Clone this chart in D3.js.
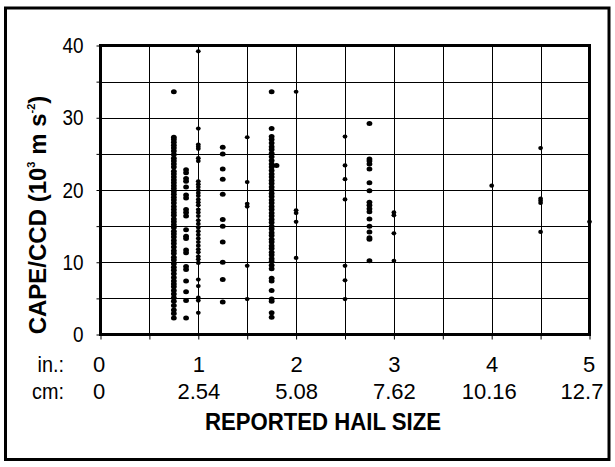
<!DOCTYPE html>
<html><head><meta charset="utf-8">
<script src="https://cdn.jsdelivr.net/npm/d3@7"></script>
<style>html,body{margin:0;padding:0;background:#fff;}svg{display:block;}</style>
</head><body>
<script>
// Hail size columns (inches) and CAPE/CCD values (10^3 m s^-2)
const hailSizesIn = [0.75, 0.875, 1, 1.25, 1.5, 1.75, 1.8, 2, 2.5, 2.75, 3, 4, 4.5, 5];
const cape075 = [33.6, 27.3, 27.0, 26.6, 26.2, 25.8, 25.4, 24.9, 24.4, 24.0, 23.6, 23.2, 22.6, 22.2, 21.8, 21.4, 21.0, 20.6, 20.2, 19.8, 19.4, 19.0, 18.6, 18.2, 17.7, 17.3, 16.9, 16.5, 16.0, 15.6, 15.2, 14.8, 14.3, 13.9, 13.5, 13.0, 12.6, 12.1, 11.6, 11.2, 10.7, 10.3, 9.8, 9.3, 8.9, 8.4, 7.9, 7.4, 7.0, 6.6, 6.1, 5.6, 5.1, 4.6, 4.0, 3.4, 2.9, 2.3];
const cape0875 = [22.8, 22.4, 21.6, 21.2, 20.4, 19.3, 18.9, 17.3, 16.9, 16.4, 14.5, 13.6, 13.3, 11.7, 11.3, 9.4, 9.0, 7.4, 5.9, 4.7, 2.3];
const cape100 = [39.2, 28.5, 26.3, 26.0, 25.7, 24.4, 24.0, 21.2, 20.8, 20.4, 20.0, 19.6, 19.2, 18.7, 18.3, 17.9, 17.3, 16.9, 16.4, 15.8, 15.3, 14.8, 14.3, 13.8, 13.3, 12.8, 12.3, 11.8, 11.4, 10.8, 10.4, 9.9, 7.6, 6.7, 5.1, 4.7, 3.0];
const cape125 = [25.9, 25.0, 22.9, 21.5, 19.4, 15.9, 15.0, 12.8, 10.0, 7.6, 4.5];
const cape150 = [27.3, 21.1, 18.1, 17.7, 9.5, 4.9];
const cape175 = [33.6, 28.5, 27.4, 27.0, 26.5, 26.0, 25.6, 25.1, 24.6, 24.1, 23.6, 23.2, 22.7, 22.2, 21.8, 21.3, 20.9, 20.4, 20.0, 19.5, 19.1, 18.6, 18.2, 17.7, 17.3, 16.8, 16.4, 15.9, 15.5, 15.0, 14.6, 14.1, 13.7, 13.2, 12.8, 12.3, 11.9, 11.4, 11.0, 10.5, 10.1, 9.6, 9.1, 7.8, 7.4, 6.1, 4.9, 4.6, 3.0, 2.4];
const cape180 = [23.4];
const cape200 = [33.6, 17.2, 16.8, 15.6, 10.6];
const cape250 = [27.4, 23.4, 21.5, 18.7, 9.5, 7.5, 4.9];
const cape275 = [29.2, 24.3, 24.0, 23.6, 22.9, 21.0, 19.9, 18.3, 17.9, 17.4, 17.0, 16.0, 15.0, 14.2, 13.4, 13.2, 10.2];
const cape300 = [16.9, 16.5, 14.0, 10.2];
const cape400 = [20.6];
const cape450 = [25.8, 18.8, 18.5, 18.2, 14.2];
const cape500 = [15.6];
const capeColumns = [cape075, cape0875, cape100, cape125, cape150, cape175, cape180, cape200, cape250, cape275, cape300, cape400, cape450, cape500];

const inchTicks = [0, 1, 2, 3, 4, 5];
const inchLabels = ["0", "1", "2", "3", "4", "5"];
const cmLabels = ["0", "2.54", "5.08", "7.62", "10.16", "12.7"];
const yTickValues = [0, 5, 10, 15, 20, 25, 30, 35, 40];
const yLabelValues = [0, 10, 20, 30, 40];

const points = [];
hailSizesIn.forEach((h, i) => capeColumns[i].forEach(v => points.push({x: h, y: v})));

const W = 615, H = 467;
const svg = d3.select("body").append("svg").attr("width", W).attr("height", H);
const font = "'Liberation Sans', Arial, sans-serif";

function condense(sel, factor) {
  sel.each(function () {
    const l = this.getComputedTextLength();
    d3.select(this).attr("textLength", l * factor).attr("lengthAdjust", "spacingAndGlyphs");
  });
}

// outer frame
svg.append("rect").attr("x", 5.5).attr("y", 8).attr("width", 603.5).attr("height", 451.5)
  .attr("fill", "none").attr("stroke", "#000").attr("stroke-width", 3);

const x = d3.scaleLinear().domain([0, 5]).range([100.5, 589.5]);
const y = d3.scaleLinear().domain([0, 40]).range([334.5, 45.5]);

// gridlines
const g = svg.append("g");
g.selectAll(".vg").data(d3.range(0.5, 5, 0.5)).enter().append("line")
  .attr("x1", d => Math.round(x(d)) + 0.5).attr("x2", d => Math.round(x(d)) + 0.5)
  .attr("y1", y(40)).attr("y2", y(0)).attr("stroke", "#000").attr("stroke-width", 1);
g.selectAll(".hg").data([5, 10, 15, 20, 25, 30, 35]).enter().append("line")
  .attr("y1", d => Math.round(y(d)) + 0.5).attr("y2", d => Math.round(y(d)) + 0.5)
  .attr("x1", x(0)).attr("x2", x(5)).attr("stroke", "#000").attr("stroke-width", 1);

// tick marks via axes
const xTickAxis = d3.axisBottom(x).tickValues(d3.range(0, 5.01, 0.5)).tickSize(5).tickFormat("");
svg.append("g").attr("transform", `translate(0,${y(0)})`).call(xTickAxis)
  .call(s => s.select(".domain").remove())
  .selectAll("line").attr("stroke", "#000").attr("stroke-width", 1);
const yTickAxis = d3.axisLeft(y).tickValues(yTickValues).tickSize(4).tickFormat("");
svg.append("g").attr("transform", `translate(${x(0)},0)`).call(yTickAxis)
  .call(s => s.select(".domain").remove())
  .selectAll("line").attr("stroke", "#000").attr("stroke-width", 1);

// y labels
const yLab = d3.axisLeft(y).tickValues(yLabelValues).tickSize(0).tickPadding(17).tickFormat(d3.format("d"));
svg.append("g").attr("transform", `translate(${x(0)},0)`).call(yLab)
  .call(s => s.select(".domain").remove())
  .selectAll("text").attr("font-family", font).attr("font-size", 22).attr("fill", "#000")
  .call(condense, 0.86);

// x labels: inches and cm rows
const inAxis = d3.axisBottom(x).tickValues(inchTicks).tickSize(0).tickFormat((d, i) => inchLabels[i]);
const inG = svg.append("g").attr("transform", `translate(0,${y(0)})`).call(inAxis);
inG.select(".domain").remove();
inG.selectAll("text").attr("font-family", font).attr("font-size", 22).attr("fill", "#000")
  .attr("dy", null).attr("y", 37);
const cmAxis = d3.axisBottom(x).tickValues(inchTicks).tickSize(0).tickFormat((d, i) => cmLabels[i]);
const cmG = svg.append("g").attr("transform", `translate(0,${y(0)})`).call(cmAxis);
cmG.select(".domain").remove();
cmG.selectAll("text").attr("font-family", font).attr("font-size", 22).attr("fill", "#000")
  .attr("dy", null).attr("y", 64);
// first/last labels placed like the original
inG.selectAll(".tick").filter(d => d === 0).select("text").attr("x", -2);
cmG.selectAll(".tick").filter(d => d === 0).select("text").attr("x", -2);
inG.selectAll(".tick").filter(d => d === 5).select("text").attr("x", -1);
cmG.selectAll(".tick").filter(d => d === 5).select("text").attr("x", -8);
cmG.selectAll(".tick").filter(d => d === 4).select("text").attr("x", -3);

svg.append("text").attr("x", 64).attr("y", y(0) + 37).attr("text-anchor", "end")
  .attr("font-family", font).attr("font-size", 22).text("in.:").call(condense, 0.9);
svg.append("text").attr("x", 64).attr("y", y(0) + 64).attr("text-anchor", "end")
  .attr("font-family", font).attr("font-size", 22).text("cm:").call(condense, 0.9);

// x title
svg.append("text").attr("x", 323).attr("y", 430).attr("text-anchor", "middle")
  .attr("font-family", font).attr("font-size", 23).attr("font-weight", "bold")
  .attr("textLength", 236).attr("lengthAdjust", "spacingAndGlyphs")
  .text("REPORTED HAIL SIZE");

// y title
const yt = svg.append("text").attr("transform", `translate(46,215) rotate(-90)`)
  .attr("text-anchor", "middle").attr("font-family", font).attr("font-size", 24).attr("font-weight", "bold");
yt.append("tspan").text("CAPE/CCD (10");
yt.append("tspan").attr("font-size", 11).attr("dy", -11).text("3");
yt.append("tspan").attr("dy", 11).text(" m s");
yt.append("tspan").attr("font-size", 11).attr("dy", -11).text("-2");
yt.append("tspan").attr("dy", 11).text(")");

// points
svg.append("g").selectAll("ellipse").data(points).enter().append("ellipse")
  .attr("cx", d => x(d.x)).attr("cy", d => y(d.y))
  .attr("rx", d => (Number.isInteger(d.x * 2) ? 2.4 : 2.9))
  .attr("ry", d => (Number.isInteger(d.x * 2) ? 2.1 : 2.5))
  .attr("fill", "#000");

// plot border
svg.append("rect").attr("x", x(0)).attr("y", y(40)).attr("width", x(5) - x(0)).attr("height", y(0) - y(40))
  .attr("fill", "none").attr("stroke", "#000").attr("stroke-width", 3);
</script>
</body></html>
